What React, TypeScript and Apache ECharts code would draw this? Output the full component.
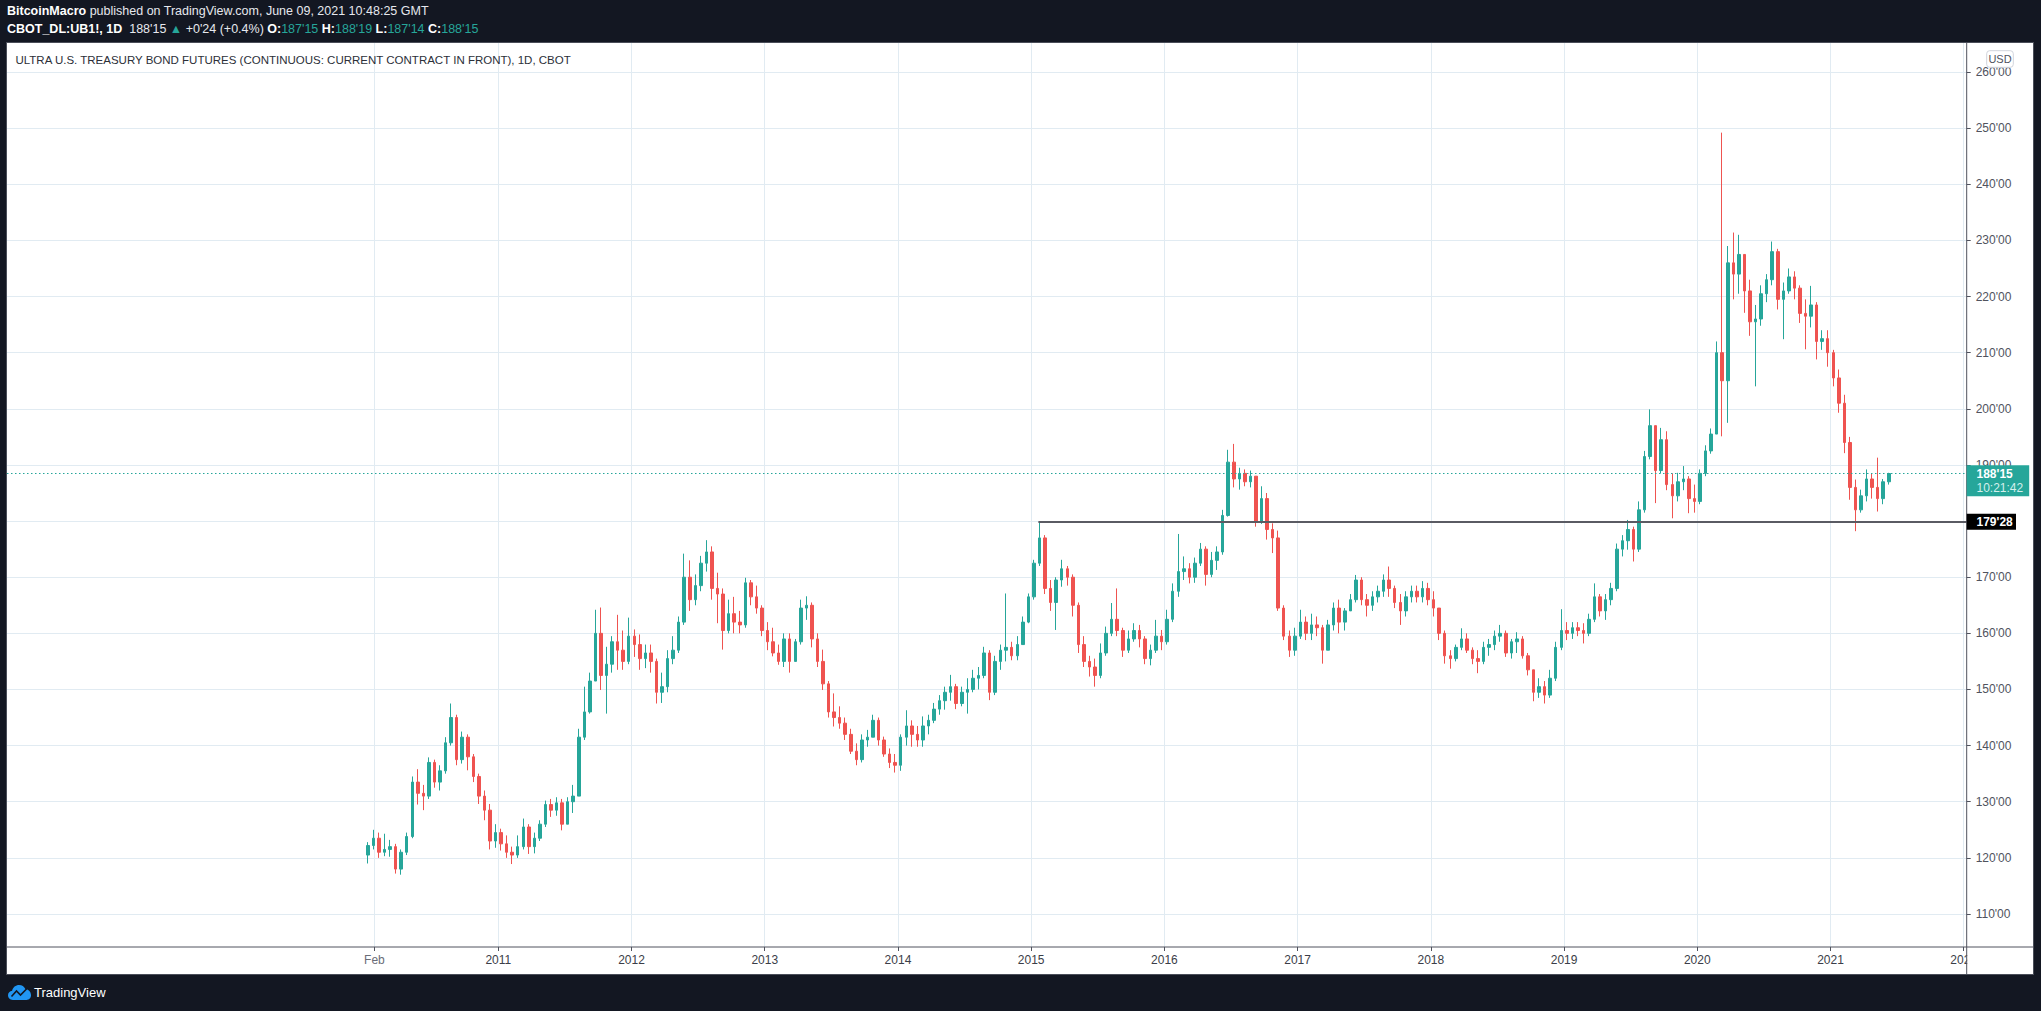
import React, { useEffect, useRef } from "react";
import * as echarts from "echarts";

const FONT = "'Liberation Sans', Arial, sans-serif";

// Half-month candles, first period = first half of January 2010
const startYear = 2010;

const opens = [
  // 2010
  120.5,122.2,123.5,121.0,121.5,122.0,118.0,121.0,123.8,133.5,131.5,131.0,137.0,133.5,135.5,140.5,145.0,137.5,141.5,138.0,134.5,131.0,128.5,123.0,
  // 2011
  124.5,122.5,121.0,120.5,122.0,125.5,122.0,123.5,126.0,129.5,128.5,129.8,126.0,130.0,131.0,141.5,146.0,151.5,160.0,152.5,154.5,158.5,157.0,155.0,
  // 2012
  159.5,158.0,155.5,156.5,155.0,149.5,150.5,155.5,157.0,162.0,170.0,166.0,168.5,172.5,174.5,168.0,167.0,160.5,163.5,162.0,161.5,169.0,166.5,164.5,
  // 2013
  160.5,158.5,156.5,155.0,159.0,155.0,158.5,164.5,165.0,159.0,155.0,151.0,146.0,145.0,144.0,142.0,139.0,137.5,141.0,141.5,144.5,141.0,138.5,137.0,
  // 2014
  136.5,141.5,143.5,142.0,141.0,143.5,144.5,146.5,148.0,149.5,150.5,147.5,149.5,150.0,152.0,152.5,156.5,149.5,155.0,157.0,157.5,156.0,158.0,162.0,
  // 2015
  166.5,172.5,177.0,168.0,165.5,169.5,171.5,170.0,165.0,158.0,155.0,154.0,152.5,156.5,160.0,162.5,160.5,157.0,159.0,160.5,159.0,155.5,157.0,159.5,
  // 2016
  158.5,162.5,167.5,171.0,171.5,170.0,172.5,175.0,170.5,173.0,174.5,181.0,190.5,187.5,188.5,187.0,188.0,180.0,184.0,178.5,177.0,164.5,159.5,157.0,
  // 2017
  159.5,162.0,160.0,161.5,161.0,157.0,161.5,164.5,162.0,164.0,166.0,169.5,166.0,165.0,166.5,167.5,169.5,168.0,165.5,164.0,166.5,167.5,166.5,168.0,
  // 2018
  166.0,164.5,160.0,156.0,155.5,157.5,159.0,157.0,155.5,155.0,157.5,158.0,159.5,160.0,156.5,158.5,159.0,156.0,153.5,149.5,150.5,149.0,152.0,157.5,
  // 2019
  160.5,160.0,161.0,160.5,160.0,162.5,166.5,164.0,166.0,168.0,175.0,176.5,178.5,175.0,182.0,191.5,197.0,189.0,194.5,186.5,184.5,187.0,187.5,184.0,
  // 2020
  183.5,188.5,192.5,195.5,210.0,205.0,226.0,224.0,227.5,221.0,215.5,216.0,220.5,223.0,228.0,219.5,221.0,223.5,221.5,217.0,216.5,218.5,212.0,212.5,
  // 2021
  210.0,205.5,201.0,194.0,186.0,182.0,184.5,187.5,186.0,184.0,187.0,
];

const closes = [
  122.2,123.5,121.0,121.5,122.0,118.0,121.0,123.8,133.5,131.5,131.0,137.0,133.5,135.5,140.5,145.0,137.5,141.5,138.0,134.5,131.0,128.5,123.0,124.5,
  122.5,121.0,120.5,122.0,125.5,122.0,123.5,126.0,129.5,128.5,129.8,126.0,130.0,131.0,141.5,146.0,151.5,160.0,152.5,154.5,158.5,157.0,155.0,159.5,
  158.0,155.5,156.5,155.0,149.5,150.5,155.5,157.0,162.0,170.0,166.0,168.5,172.5,174.5,168.0,167.0,160.5,163.5,162.0,161.5,169.0,166.5,164.5,160.5,
  158.5,156.5,155.0,159.0,155.0,158.5,164.5,165.0,159.0,155.0,151.0,146.0,145.0,144.0,142.0,139.0,137.5,141.0,141.5,144.5,141.0,138.5,137.0,136.5,
  141.5,143.5,142.0,141.0,143.5,144.5,146.5,148.0,149.5,150.5,147.5,149.5,150.0,152.0,152.5,156.5,149.5,155.0,157.0,157.5,156.0,158.0,162.0,166.5,
  172.5,177.0,168.0,165.5,169.5,171.5,170.0,165.0,158.0,155.0,154.0,152.5,156.5,160.0,162.5,160.5,157.0,159.0,160.5,159.0,155.5,157.0,159.5,158.5,
  162.5,167.5,171.0,171.5,170.0,172.5,175.0,170.5,173.0,174.5,181.0,190.5,187.5,188.5,187.0,188.0,180.0,184.0,178.5,177.0,164.5,159.5,157.0,159.5,
  162.0,160.0,161.5,161.0,157.0,161.5,164.5,162.0,164.0,166.0,169.5,166.0,165.0,166.5,167.5,169.5,168.0,165.5,164.0,166.5,167.5,166.5,168.0,166.0,
  164.5,160.0,156.0,155.5,157.5,159.0,157.0,155.5,155.0,157.5,158.0,159.5,160.0,156.5,158.5,159.0,156.0,153.5,149.5,150.5,149.0,152.0,157.5,160.5,
  160.0,161.0,160.5,160.0,162.5,166.5,164.0,166.0,168.0,175.0,176.5,178.5,175.0,182.0,191.5,197.0,189.0,194.5,186.5,184.5,187.0,187.5,184.0,183.5,
  188.5,192.5,195.5,210.0,205.0,226.0,224.0,227.5,221.0,215.5,216.0,220.5,223.0,228.0,219.5,221.0,223.5,221.5,217.0,216.5,218.5,212.0,212.5,210.0,
  205.5,201.0,194.0,186.0,182.0,184.5,187.5,186.0,184.0,187.0,188.47,
];

const lows = [
  119.0,121.5,120.0,120.3,120.2,117.2,117.0,120.5,123.5,129.5,128.5,130.5,132.5,132.0,135.0,140.0,136.5,136.8,135.6,133.5,129.6,126.7,121.5,121.8,
  121.3,120.0,118.9,120.0,121.5,120.7,120.8,123.0,125.5,127.3,127.5,124.9,126.0,128.0,131.0,141.0,145.7,151.5,149.9,145.7,153.0,153.5,153.5,154.5,
  155.8,153.5,153.8,153.0,147.5,147.6,149.5,154.5,156.5,161.5,164.0,165.0,167.5,171.0,166.0,161.8,157.1,160.0,160.0,160.0,161.0,165.0,163.5,159.5,
  157.0,155.9,154.4,154.0,153.0,155.0,158.0,162.4,157.5,154.0,149.9,145.0,143.4,143.0,141.0,138.5,136.5,137.0,139.8,141.5,140.0,138.0,136.0,135.2,
  135.5,140.0,139.8,139.8,139.8,142.0,144.0,145.5,146.4,148.0,146.5,147.0,145.7,149.5,150.0,152.0,148.1,149.0,153.5,155.0,155.2,155.2,158.0,161.8,
  166.0,172.0,167.0,164.0,160.6,168.3,168.5,163.0,156.5,154.0,152.3,150.5,152.0,156.0,159.5,159.5,155.8,156.5,158.5,157.5,154.5,154.3,156.5,157.0,
  158.0,162.0,166.5,169.5,168.9,169.0,172.0,168.5,170.0,171.3,174.0,180.8,186.0,185.6,186.2,186.0,179.0,179.5,176.7,174.3,164.0,158.8,155.8,156.0,
  159.0,158.8,158.8,159.5,154.6,157.0,160.5,160.0,160.5,164.0,165.5,165.0,163.0,164.0,165.5,166.5,166.5,164.5,161.5,163.0,165.5,165.5,165.5,165.0,
  163.0,158.8,154.6,153.7,155.0,157.0,156.5,154.5,152.9,154.5,156.0,157.0,158.5,155.8,155.5,156.5,155.5,152.5,147.9,148.5,147.5,148.5,151.5,157.0,
  158.8,159.0,159.5,158.2,159.5,162.0,163.0,162.4,165.0,167.5,173.7,174.9,172.8,174.5,181.5,191.0,183.2,188.5,185.5,180.5,183.5,185.5,181.4,181.5,
  183.0,188.0,192.0,195.5,195.1,197.5,219.5,220.5,217.1,213.0,204.0,214.8,219.0,222.0,217.7,212.4,220.5,219.5,215.3,210.6,214.5,208.8,210.5,207.5,
  204.0,199.3,192.1,183.8,178.2,181.5,183.5,184.0,181.7,183.0,186.5,
];

const highs = [
  122.8,125.0,124.5,124.3,123.2,122.5,121.5,124.5,134.5,135.8,133.0,137.9,137.5,136.5,141.5,147.5,145.5,142.5,142.0,138.5,135.0,132.0,129.6,126.0,
  125.2,124.0,122.0,124.0,127.0,126.0,124.5,126.7,130.2,130.5,130.8,130.5,130.8,133.0,143.0,150.5,153.0,164.2,164.6,157.6,159.5,163.3,160.5,162.8,
  160.7,159.8,158.0,158.0,155.5,153.0,157.0,159.5,163.0,174.2,173.0,170.5,173.8,176.6,175.5,170.8,168.0,166.0,166.5,164.0,169.9,169.5,168.5,165.0,
  162.0,161.0,158.0,160.0,160.0,159.0,166.0,166.6,165.5,160.0,157.1,151.5,149.3,147.0,145.0,143.0,140.4,142.0,142.8,145.5,145.0,141.6,139.5,138.5,
  142.0,146.3,144.5,143.5,145.2,145.5,147.6,149.0,150.5,152.6,151.0,150.5,152.0,153.5,154.0,157.6,157.0,156.0,158.0,167.1,158.5,159.5,163.0,167.1,
  173.1,179.9,177.5,169.5,170.0,173.1,172.0,170.5,165.5,159.5,156.0,155.5,158.2,161.2,165.4,168.0,161.0,160.5,161.8,161.5,159.5,158.0,162.4,160.6,
  164.2,168.9,177.7,173.7,172.5,173.5,176.1,175.5,174.5,175.5,182.0,192.7,193.75,189.5,189.2,189.0,188.0,186.2,185.0,179.6,178.3,165.0,160.5,161.0,
  164.2,163.0,163.5,163.0,161.5,162.4,165.5,166.0,164.5,167.0,170.4,170.0,167.0,167.5,168.5,170.5,171.9,168.5,167.0,167.5,168.5,168.5,169.3,169.0,
  167.5,164.5,160.5,157.0,158.0,160.9,160.0,157.5,157.0,158.5,159.0,160.5,161.5,160.5,159.0,160.2,159.5,156.5,153.5,152.0,151.5,153.5,158.5,164.3,
  162.0,162.0,162.0,161.8,163.5,168.9,167.0,167.0,169.0,176.0,177.5,180.2,179.0,183.5,192.5,199.9,197.0,196.6,196.0,188.5,188.6,189.8,188.0,186.5,
  189.2,193.5,196.5,212.0,249.2,229.0,231.4,231.0,227.5,223.0,218.5,222.0,224.0,229.8,228.5,222.5,225.0,224.5,222.0,219.5,221.9,219.0,214.0,214.0,
  210.5,207.0,202.5,195.0,187.4,185.6,189.2,188.5,191.3,187.5,188.6,
];

const yTicks = [110, 120, 130, 140, 150, 160, 170, 180, 190, 200, 210, 220, 230, 240, 250, 260];
const xTicks = [2010.07, 2011, 2012, 2013, 2014, 2015, 2016, 2017, 2018, 2019, 2020, 2021, 2022];
const xMin = 2007.3121;
const xMax = 2022.0225;
const yMin = 104.12;
const yMax = 265.17;

const lastPrice = 188.47;
const lastPriceLabel = "188'15";
const countdownLabel = "10:21:42";
const levelPrice = 179.875;
const levelLabel = "179'28";
const levelStartYear = 2015.054;

const TV_LOGO =
  "M5 16C2.2 16 0 13.9 0 11.3C0 8.9 1.9 7 4.3 6.8C5 3.4 8 1 11.6 1C14.5 1 17 2.6 18.1 5.1C21.3 5.3 24 8 24 11.3C24 13.9 21.9 16 19.3 16Z";
echarts.graphic.registerShape("tvlogo", echarts.graphic.extendPath(TV_LOGO, {}));

const AXIS_COLOR = "#50535e";
const GRID_COLOR = "#e1ebf2";

export default function App() {
  const ref = useRef<HTMLDivElement>(null);

  useEffect(() => {
    const chart = echarts.init(ref.current!, undefined, { renderer: "svg", width: 2041, height: 1011 });
    const data = opens.map((o, i) => [startYear + (i + 0.5) / 24, o, closes[i], lows[i], highs[i]]);

    chart.setOption({
      animation: false,
      backgroundColor: "transparent",
      textStyle: { fontFamily: FONT },
      grid: { left: 7, right: 74.3, top: 43, bottom: 64, outerBoundsMode: "none", containLabel: false },
      xAxis: {
        type: "value",
        min: xMin,
        max: xMax,
        axisLine: { show: false },
        axisTick: { show: true, length: 4, lineStyle: { color: AXIS_COLOR }, customValues: xTicks },
        splitLine: { show: true, lineStyle: { color: GRID_COLOR, width: 1 } },
        axisLabel: {
          customValues: xTicks,
          margin: 7,
          formatter: (v: number) => (v < 2010.5 ? "{m|Feb}" : `{y|${Math.round(v)}}`),
          rich: {
            m: { color: "#6a6d78", fontSize: 12, fontFamily: FONT },
            y: { color: "#3b3e48", fontSize: 12, fontFamily: FONT },
          },
        },
      },
      yAxis: {
        type: "value",
        position: "right",
        min: yMin,
        max: yMax,
        axisLine: { show: false },
        axisTick: { show: true, length: 4, lineStyle: { color: AXIS_COLOR }, customValues: yTicks },
        splitLine: { show: true, lineStyle: { color: GRID_COLOR, width: 1 } },
        axisLabel: {
          customValues: yTicks,
          margin: 9,
          color: AXIS_COLOR,
          fontSize: 12,
          fontFamily: FONT,
          formatter: (v: number) => `${Math.round(v)}'00`,
        },
      },
      series: [
        {
          type: "candlestick",
          data,
          dimensions: ["t", "open", "close", "low", "high"],
          encode: { x: "t", y: ["open", "close", "low", "high"] },
          barWidth: 3,
          itemStyle: {
            color: "#26a69a",
            color0: "#ef5350",
            borderColor: "#26a69a",
            borderColor0: "#ef5350",
            borderWidth: 1,
          },
          markLine: {
            silent: true,
            symbol: ["none", "none"],
            label: { show: false },
            emphasis: { disabled: true },
            data: [
              { yAxis: lastPrice, lineStyle: { color: "#26a69a", type: [1.5, 2.5], width: 1 } },
              [
                { coord: [levelStartYear, levelPrice], lineStyle: { color: "#5a5b63", type: "solid", width: 2 } },
                { coord: [xMax, levelPrice] },
              ],
            ],
          },
        },
      ],
    });

    const yLast = chart.convertToPixel({ yAxisIndex: 0 }, lastPrice) as number;
    const yLevel = chart.convertToPixel({ yAxisIndex: 0 }, levelPrice) as number;
    const axisX = 1966.7;

    chart.setOption({
      graphic: [
        {
          type: "text",
          x: 7,
          y: 11,
          z: 100,
          style: {
            text: "{b|BitcoinMacro} published on TradingView.com, June 09, 2021 10:48:25 GMT",
            fill: "#e6e8ee",
            fontSize: 12.5,
            fontFamily: FONT,
            verticalAlign: "middle",
            textVerticalAlign: "middle",
            rich: { b: { fill: "#ffffff", color: "#ffffff", fontWeight: "bold", fontSize: 12.5, fontFamily: FONT } },
          },
        },
        {
          type: "text",
          x: 7,
          y: 29,
          z: 100,
          style: {
            text:
              "{b|CBOT_DL:UB1!, 1D}  {w|188'15} {t|▲} {w|+0'24 (+0.4%)} {b|O:}{t|187'15} {b|H:}{t|188'19} {b|L:}{t|187'14} {b|C:}{t|188'15}",
            fill: "#e6e8ee",
            fontSize: 12.5,
            fontFamily: FONT,
            verticalAlign: "middle",
            textVerticalAlign: "middle",
            rich: {
              b: { fill: "#ffffff", color: "#ffffff", fontWeight: "bold", fontSize: 12.5, fontFamily: FONT },
              w: { fill: "#e6e8ee", color: "#e6e8ee", fontSize: 12.5, fontFamily: FONT },
              t: { fill: "#26a69a", color: "#26a69a", fontSize: 12.5, fontFamily: FONT },
            },
          },
        },
        {
          type: "text",
          x: 15.5,
          y: 60,
          z: 100,
          style: {
            text: "ULTRA U.S. TREASURY BOND FUTURES (CONTINUOUS: CURRENT CONTRACT IN FRONT), 1D, CBOT",
            fill: "#2c2f38",
            fontSize: 11.5,
            fontFamily: FONT,
            verticalAlign: "middle",
            textVerticalAlign: "middle",
          },
        },
        // cover for the clipped last time label
        { type: "rect", z: 100, shape: { x: axisX + 0.5, y: 949, width: 60, height: 24 }, style: { fill: "#ffffff" } },
        // axis lines
        { type: "line", z: 101, shape: { x1: 6.5, y1: 947, x2: 2033.5, y2: 947 }, style: { stroke: AXIS_COLOR, lineWidth: 1 } },
        { type: "line", z: 101, shape: { x1: axisX, y1: 43, x2: axisX, y2: 974 }, style: { stroke: AXIS_COLOR, lineWidth: 1 } },
        // USD badge
        {
          type: "rect",
          z: 101,
          shape: { x: 1986.7, y: 50.7, width: 26.6, height: 16.6, r: 3 },
          style: { fill: "#ffffff", stroke: "#d1d4dc", lineWidth: 1 },
        },
        {
          type: "text",
          z: 102,
          x: 2000,
          y: 59,
          style: {
            text: "USD",
            fill: AXIS_COLOR,
            fontSize: 11,
            fontFamily: FONT,
            align: "center",
            textAlign: "center",
            verticalAlign: "middle",
            textVerticalAlign: "middle",
          },
        },
        // last price label
        {
          type: "rect",
          z: 101,
          shape: { x: axisX, y: yLast - 8.2, width: 62.5, height: 31 },
          style: { fill: "#26a69a" },
        },
        {
          type: "text",
          z: 102,
          x: 1976.5,
          y: yLast,
          style: {
            text: lastPriceLabel,
            fill: "#ffffff",
            fontSize: 12,
            fontWeight: "bold",
            fontFamily: FONT,
            verticalAlign: "middle",
            textVerticalAlign: "middle",
          },
        },
        {
          type: "text",
          z: 102,
          x: 1976.5,
          y: yLast + 14.5,
          style: {
            text: countdownLabel,
            fill: "#d4efec",
            fontSize: 12,
            fontFamily: FONT,
            verticalAlign: "middle",
            textVerticalAlign: "middle",
          },
        },
        // level label
        {
          type: "rect",
          z: 101,
          shape: { x: axisX, y: yLevel - 8, width: 49.3, height: 16 },
          style: { fill: "#000000" },
        },
        {
          type: "text",
          z: 102,
          x: 1976.5,
          y: yLevel,
          style: {
            text: levelLabel,
            fill: "#ffffff",
            fontSize: 12,
            fontWeight: "bold",
            fontFamily: FONT,
            verticalAlign: "middle",
            textVerticalAlign: "middle",
          },
        },
        // footer logo + brand
        { type: "tvlogo", z: 100, x: 8, y: 984, scaleX: 0.96, scaleY: 1, style: { fill: "#2196f3" } },
        {
          type: "polyline",
          z: 101,
          shape: { points: [[11.5, 996.5], [16.5, 991], [20.5, 995], [27, 988.5]] },
          style: { stroke: "#131722", lineWidth: 1.6, fill: null },
        },
        {
          type: "text",
          z: 100,
          x: 34,
          y: 992.5,
          style: {
            text: "TradingView",
            fill: "#ffffff",
            fontSize: 13,
            fontFamily: FONT,
            verticalAlign: "middle",
            textVerticalAlign: "middle",
          },
        },
      ],
    });

    return () => chart.dispose();
  }, []);

  return (
    <div
      style={{
        position: "fixed",
        left: 0,
        top: 0,
        width: 2041,
        height: 1011,
        background: "#131722",
        overflow: "hidden",
      }}
    >
      <div
        style={{
          position: "absolute",
          left: 6,
          top: 42,
          width: 2028,
          height: 933,
          background: "#ffffff",
          border: "1px solid #4a4e59",
          boxSizing: "border-box",
        }}
      />
      <div ref={ref} style={{ position: "absolute", left: 0, top: 0, width: 2041, height: 1011 }} />
    </div>
  );
}
